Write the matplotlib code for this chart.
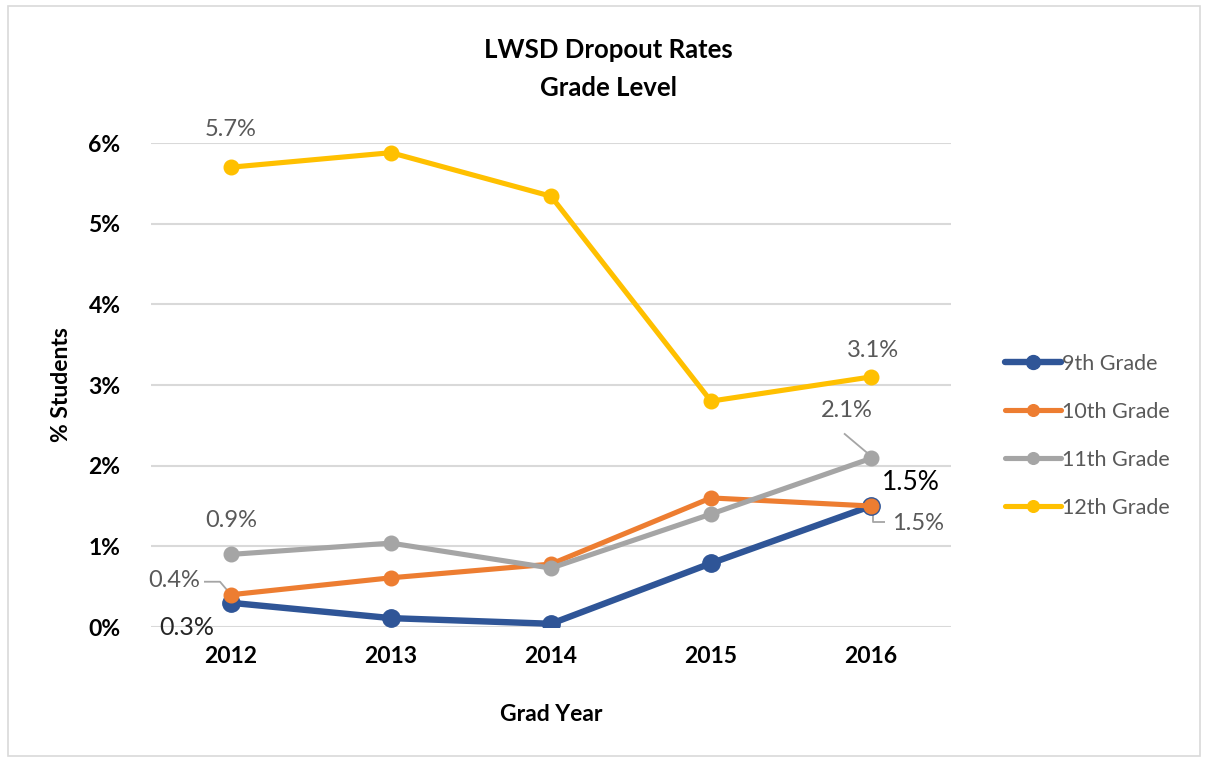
import matplotlib
matplotlib.use("Agg")
import matplotlib.pyplot as plt
from matplotlib.patches import Rectangle
from matplotlib.ticker import FuncFormatter

years = ["2012", "2013", "2014", "2015", "2016"]
grade9 = [0.3, 0.11, 0.04, 0.79, 1.5]
grade10 = [0.4, 0.61, 0.78, 1.6, 1.5]
grade11 = [0.9, 1.04, 0.73, 1.4, 2.09]
grade12 = [5.7, 5.88, 5.34, 2.8, 3.1]
series_names = ["9th Grade", "10th Grade", "11th Grade", "12th Grade"]
colors = ["#2F5597", "#ED7D31", "#A5A5A5", "#FFC000"]

plt.rcParams['font.family'] = ['Lato', 'DejaVu Sans']

fig = plt.figure(figsize=(12.08, 7.62), dpi=100)
fig.patches.append(Rectangle((8/1208, 6/762), 1192/1208, 750/762, transform=fig.transFigure,
                             fill=False, edgecolor="#D9D9D9", linewidth=1.2))
ax = fig.add_axes([151/1208, 135/762, 800/1208, 484/762])

x = list(range(len(years)))
data = [grade9, grade10, grade11, grade12]
lws = [4.6, 3.7, 3.7, 3.7]
mss = [12.5, 10.5, 10.5, 10.5]
for vals, name, c, lw, ms in zip(data, series_names, colors, lws, mss):
    ax.plot(x, vals, color=c, lw=lw, marker='o', ms=ms, label=name, solid_capstyle='round',
            zorder=3)

ax.set_xlim(-0.5, 4.5)
ax.set_ylim(0, 6)
ax.set_yticks([0, 1, 2, 3, 4, 5, 6])
ax.yaxis.set_major_formatter(FuncFormatter(lambda v, p: f"{v:.0f}%"))
ax.set_xticks(x)
ax.set_xticklabels(years)
ax.grid(axis='y', color="#D9D9D9", lw=1.5, zorder=0)
ax.set_axisbelow(True)
for s in ax.spines.values():
    s.set_visible(False)
ax.tick_params(length=0, labelsize=16.5, labelcolor="#000000")
for lab in ax.get_xticklabels() + ax.get_yticklabels():
    lab.set_fontweight('bold')
ax.tick_params(axis='x', pad=14)
ax.tick_params(axis='y', pad=22)

ax.set_xlabel("Grad Year", fontsize=16.5, fontweight='bold', labelpad=26)
ax.set_ylabel("% Students", fontsize=16.5, fontweight='bold', labelpad=12)

fig.text(608/1208, 1 - 50/762, "LWSD Dropout Rates", ha='center', va='center', fontsize=18.5, fontweight='bold')
fig.text(608/1208, 1 - 88/762, "Grade Level", ha='center', va='center', fontsize=18.5, fontweight='bold')

gray = "#595959"
def lab(xi, yv, txt, dx, dy, color=gray, size=17):
    ax.annotate(txt, (xi, yv), xytext=(dx, dy), textcoords='offset pixels',
                ha='center', va='center', color=color, fontsize=size)

def leader(xi, yv, pts):
    X, Y = ax.transData.transform((xi, yv))
    inv = ax.transData.inverted()
    xs, ys = [], []
    for dx, dy in pts:
        xd, yd = inv.transform((X + dx, Y + dy))
        xs.append(xd)
        ys.append(yd)
    ax.plot(xs, ys, color="#A5A5A5", lw=1.3, zorder=2.5, solid_capstyle='butt')

lab(0, grade12[0], "5.7%", 0, 38)
lab(4, grade12[4], "3.1%", 2, 26)
lab(0, grade11[0], "0.9%", 0, 34)
lab(0, grade9[0], "0.3%", -44, -25, color="#262626", size=18)
lab(4, grade9[4], "1.5%", 40, 23, color="#000000", size=19)
lab(0, grade10[0], "0.4%", -57, 14)
lab(4, grade11[4], "2.1%", -24, 48)
lab(4, grade10[4], "1.5%", 47, -18)

leader(0, grade10[0], [(-27, 13), (-11, 13), (0, 0)])
leader(4, grade11[4], [(-27, 25), (-2, 4)])
leader(4, grade10[4], [(2, -4), (2, -16), (14, -16)])

leg = fig.legend(loc='center left', bbox_to_anchor=(986/1208, 1 - 436/762), frameon=False,
                 fontsize=15.5, handlelength=2.6, handletextpad=0.05, labelspacing=1.3,
                 markerscale=0.8)
for t in leg.get_texts():
    t.set_color(gray)

fig.savefig("out.png", dpi=100)
